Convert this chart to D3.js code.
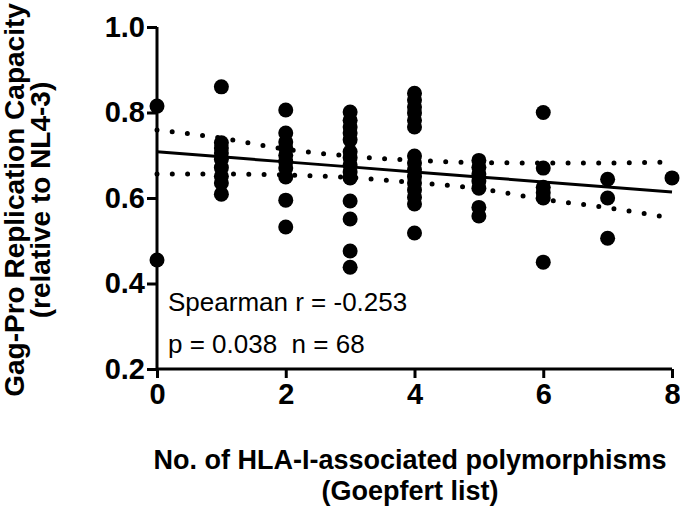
<!DOCTYPE html>
<html><head><meta charset="utf-8">
<script src="https://cdn.jsdelivr.net/npm/d3@7"></script>
<style>body{margin:0;background:#fff;}svg{display:block;font-family:"Liberation Sans",Arial,sans-serif;}</style>
</head><body>
<svg id="chart" width="680" height="508"></svg>
<script>
// Data: number of polymorphisms (x) and replication capacity (y)
const col0 = [0.815, 0.455];
const col1 = [0.86, 0.729, 0.717, 0.705, 0.690, 0.671, 0.651, 0.635, 0.609];
const col2 = [0.806, 0.752, 0.731, 0.717, 0.700, 0.685, 0.670, 0.649, 0.595, 0.532];
const col3 = [0.801, 0.782, 0.766, 0.752, 0.736, 0.708, 0.694, 0.677, 0.661, 0.647, 0.593, 0.551, 0.476, 0.438];
const col4 = [0.845, 0.829, 0.813, 0.799, 0.782, 0.766, 0.698, 0.682, 0.666, 0.650, 0.635, 0.619, 0.602, 0.586, 0.518];
const col5 = [0.688, 0.672, 0.656, 0.640, 0.623, 0.578, 0.558];
const col6 = [0.800, 0.670, 0.625, 0.612, 0.600, 0.450];
const col7 = [0.644, 0.600, 0.506];
const col8 = [0.647];
const columns = [col0, col1, col2, col3, col4, col5, col6, col7, col8];

// Fit line and 95% confidence band
const fitX = [0, 1, 2, 3, 4, 5, 6, 7, 8];
const fitY = [0.708, 0.6963, 0.6845, 0.6728, 0.661, 0.6493, 0.6375, 0.6258, 0.614];
const upperY = [0.759, 0.740, 0.714, 0.698, 0.688, 0.683, 0.682, 0.682, 0.684];
const lowerY = [0.656, 0.656, 0.654, 0.648, 0.636, 0.622, 0.597, 0.577, 0.553];

const xTicks = [0, 2, 4, 6, 8];
const yTicks = [0.2, 0.4, 0.6, 0.8, 1.0];

const points = [];
columns.forEach((c, i) => c.forEach(v => points.push({x: i, y: v})));

const svg = d3.select("#chart");
const x = d3.scaleLinear().domain([0, 8]).range([157, 672]);
const y = d3.scaleLinear().domain([0.2, 1.0]).range([369, 27]);

// Axes
const yAxis = d3.axisLeft(y).tickValues(yTicks).tickFormat(d3.format(".1f")).tickSize(10).tickPadding(2);
const xAxis = d3.axisBottom(x).tickValues(xTicks).tickFormat(d3.format("d")).tickSize(9).tickPadding(5);

const gy = svg.append("g").attr("transform", `translate(${x(0)},0)`).call(yAxis);
const gx = svg.append("g").attr("transform", `translate(0,${y(0.2)})`).call(xAxis);
[gx, gy].forEach(g => {
  g.select(".domain").attr("stroke", "#000").attr("stroke-width", 3);
  g.selectAll(".tick line").attr("stroke", "#000").attr("stroke-width", 3);
  g.selectAll(".tick text").attr("fill", "#000").attr("font-size", 29).attr("font-weight", "bold")
    .attr("font-family", "'Liberation Sans', Arial, sans-serif");
});
gy.select(".domain").attr("d", `M0,${y(1.0)}V${y(0.2)}`);
gx.select(".domain").attr("d", `M${x(0)},0H${x(8)}`);

// Confidence band (dotted)
const lineGen = d3.line().x(d => x(d[0])).y(d => y(d[1])).curve(d3.curveMonotoneX);
[upperY, lowerY].forEach(arr => {
  svg.append("path")
    .datum(fitX.map((v, i) => [v, arr[i]]))
    .attr("d", lineGen)
    .attr("fill", "none").attr("stroke", "#000")
    .attr("stroke-width", 5).attr("stroke-linecap", "round")
    .attr("stroke-dasharray", "0,15.3");
});

// Points
svg.append("g").selectAll("circle").data(points).join("circle")
  .attr("cx", d => x(d.x)).attr("cy", d => y(d.y)).attr("r", 7.5).attr("fill", "#000");

// Fit line
svg.append("path")
  .datum(fitX.map((v, i) => [v, fitY[i]]))
  .attr("d", d3.line().x(d => x(d[0])).y(d => y(d[1])))
  .attr("fill", "none").attr("stroke", "#000").attr("stroke-width", 3);

// Stats text
svg.append("text").attr("x", 168).attr("y", 311).attr("font-size", 26).attr("fill", "#000")
  .text("Spearman r = -0.253");
svg.append("text").attr("x", 168).attr("y", 353).attr("font-size", 26).attr("fill", "#000")
  .attr("xml:space", "preserve").style("white-space", "pre")
  .text("p = 0.038  n = 68");

// Axis titles
svg.append("text").attr("x", 410).attr("y", 469).attr("text-anchor", "middle")
  .attr("font-size", 27).attr("font-weight", "bold").text("No. of HLA-I-associated polymorphisms");
svg.append("text").attr("x", 410).attr("y", 500).attr("text-anchor", "middle")
  .attr("font-size", 27).attr("font-weight", "bold").text("(Goepfert list)");

svg.append("text").attr("transform", "translate(24,200) rotate(-90)").attr("text-anchor", "middle")
  .attr("font-size", 28).attr("font-weight", "bold").text("Gag-Pro Replication Capacity");
svg.append("text").attr("transform", "translate(50,200) rotate(-90)").attr("text-anchor", "middle")
  .attr("font-size", 28).attr("font-weight", "bold").text("(relative to NL4-3)");
</script>
</body></html>
